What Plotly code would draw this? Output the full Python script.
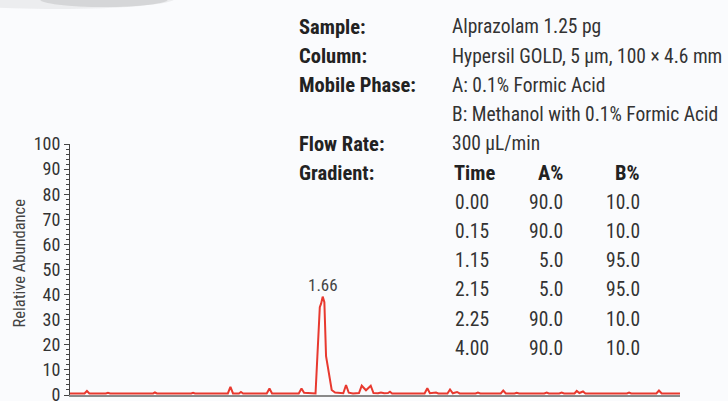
import plotly.graph_objects as go

# ========== Data ==========

# chromatogram (retention time in min, relative abundance in %)
times = [0.000, 0.095, 0.111, 0.127, 0.235, 0.249, 0.263, 0.300, 0.315, 0.330,
         0.490, 0.505, 0.520, 0.545, 0.557, 0.570, 0.795, 0.807, 0.820,
         1.035, 1.052, 1.069, 1.108, 1.121, 1.135, 1.290, 1.308, 1.325,
         1.500, 1.518, 1.535, 1.560, 1.610, 1.638, 1.647, 1.657, 1.668,
         1.679, 1.694, 1.716, 1.738, 1.760, 1.792, 1.810, 1.828, 1.856,
         1.895, 1.913, 1.941, 1.972, 1.990, 2.020, 2.039, 2.060, 2.085,
         2.098, 2.112, 2.325, 2.343, 2.360, 2.385, 2.400, 2.415, 2.475,
         2.492, 2.510, 2.538, 2.555, 2.660, 2.675, 2.690, 2.825, 2.841,
         2.858, 2.915, 2.929, 2.945, 3.020, 3.036, 3.050, 3.110, 3.126,
         3.140, 3.208, 3.224, 3.240, 3.308, 3.323, 3.340, 3.364, 3.380,
         3.652, 3.666, 3.680, 3.845, 3.862, 3.880, 4.000]
abundance = [0.6, 0.6, 1.6, 0.6, 0.6, 0.9, 0.6, 0.6, 0.9, 0.6,
             0.6, 0.9, 0.6, 0.6, 1.0, 0.6, 0.6, 0.9, 0.6,
             0.6, 3.2, 0.6, 0.6, 1.2, 0.6, 0.6, 2.6, 0.6,
             0.6, 2.6, 0.9, 0.7, 0.6, 35.0, 36.5, 39.2, 37.0,
             15.5, 10.0, 2.0, 1.0, 0.9, 0.7, 4.0, 0.9, 0.6,
             0.8, 3.7, 1.9, 3.7, 0.8, 0.7, 1.0, 0.7, 0.8,
             1.3, 0.6, 0.6, 2.7, 0.7, 0.7, 1.0, 0.6, 0.6,
             2.2, 0.7, 1.2, 0.6, 0.6, 1.0, 0.6, 0.6, 1.8,
             0.6, 0.6, 0.9, 0.6, 0.6, 0.9, 0.6, 0.6, 1.0,
             0.6, 0.6, 1.0, 0.6, 0.6, 1.6, 0.8, 1.4, 0.6,
             0.6, 1.0, 0.6, 0.6, 1.8, 0.6, 0.6]

peak_time = 1.66
peak_label = "1.66"
peak_height = 39.2

y_ticks = [0, 10, 20, 30, 40, 50, 60, 70, 80, 90, 100]

# method conditions
info_labels = ["Sample:", "Column:", "Mobile Phase:", "", "Flow Rate:", "Gradient:"]
info_values = ["Alprazolam 1.25 pg",
               "Hypersil GOLD, 5 µm, 100 × 4.6 mm",
               "A: 0.1% Formic Acid",
               "B: Methanol with 0.1% Formic Acid",
               "300 µL/min",
               ""]

grad_time = ["0.00", "0.15", "1.15", "2.15", "2.25", "4.00"]
grad_a = ["90.0", "90.0", "5.0", "5.0", "90.0", "90.0"]
grad_b = ["10.0", "10.0", "95.0", "95.0", "10.0", "10.0"]

# ========== Layout helpers ==========

FONT = "Liberation Sans Narrow, Roboto Condensed, Arial Narrow, Liberation Sans, sans-serif"
L, R, T, B = 70, 48, 144, 6
W, H = 728, 401
PW, PH = W - L - R, H - T - B
TXT = 19.5   # regular text size
BOLD = 20.5  # bold labels


def px_x(x):
    return (x - L) / PW


def px_y(y):
    return (H - B - y) / PH


fig = go.Figure()

fig.add_trace(go.Scatter(
    x=times, y=abundance, mode="lines",
    line=dict(color="#e8392f", width=2),
    hoverinfo="skip", showlegend=False,
))

annotations = []

# peak label
annotations.append(dict(
    x=peak_time, y=peak_height, xref="x", yref="y", text=peak_label,
    showarrow=False, yanchor="bottom", yshift=0,
    font=dict(family=FONT, size=17, color="#444444"),
))

# y axis title
annotations.append(dict(
    x=px_x(18.5), y=px_y(263), xref="paper", yref="paper",
    text="Relative Abundance", textangle=-90, showarrow=False,
    xanchor="center", yanchor="middle",
    font=dict(family=FONT, size=16.5, color="#444444"),
))

row0, step = 27, 29.2
for i, (lab, val) in enumerate(zip(info_labels, info_values)):
    yy = px_y(row0 + step * i)
    if lab:
        annotations.append(dict(
            x=px_x(297), y=yy, xref="paper", yref="paper", text="<b>" + lab + "</b>",
            showarrow=False, xanchor="left", yanchor="middle",
            font=dict(family=FONT, size=BOLD, color="#222222"),
        ))
    if val:
        annotations.append(dict(
            x=px_x(450), y=yy, xref="paper", yref="paper", text=val,
            showarrow=False, xanchor="left", yanchor="middle",
            font=dict(family=FONT, size=TXT, color="#333333"),
        ))

# gradient table header
hy = px_y(row0 + step * 5)
for txt, xx, anchor in [("Time", 452, "left"), ("A%", 565, "right"), ("B%", 642, "right")]:
    annotations.append(dict(
        x=px_x(xx), y=hy, xref="paper", yref="paper", text="<b>" + txt + "</b>",
        showarrow=False, xanchor=anchor, yanchor="middle",
        font=dict(family=FONT, size=BOLD, color="#222222"),
    ))

for j, (t, a, b) in enumerate(zip(grad_time, grad_a, grad_b)):
    yy = px_y(row0 + step * (6 + j))
    for txt, xx, anchor in [(t, 453, "left"), (a, 565, "right"), (b, 642, "right")]:
        annotations.append(dict(
            x=px_x(xx), y=yy, xref="paper", yref="paper", text=txt,
            showarrow=False, xanchor=anchor, yanchor="middle",
            font=dict(family=FONT, size=TXT, color="#333333"),
        ))

# faint grey smudge at the top left edge
shapes = [
    dict(type="circle", xref="paper", yref="paper",
         x0=px_x(-60), x1=px_x(175), y0=px_y(9), y1=px_y(-12),
         fillcolor="rgba(120,120,120,0.10)", line=dict(width=0), layer="above"),
    dict(type="circle", xref="paper", yref="paper",
         x0=px_x(40), x1=px_x(168), y0=px_y(7), y1=px_y(-8),
         fillcolor="rgba(110,110,110,0.18)", line=dict(width=0), layer="above"),
]

fig.update_layout(
    width=W, height=H,
    margin=dict(l=L, r=R, t=T, b=B),
    paper_bgcolor="#fafbfd",
    plot_bgcolor="#fafbfd",
    annotations=annotations,
    shapes=shapes,
    showlegend=False,
    xaxis=dict(
        range=[0, 4.0], showgrid=False, zeroline=False,
        showline=True, linecolor="#8a8a8a", linewidth=2,
        ticks="", showticklabels=False, fixedrange=True,
        automargin=False,
    ),
    yaxis=dict(
        range=[0, 100], showgrid=False, zeroline=False,
        showline=True, linecolor="#444444", linewidth=1,
        tickvals=y_ticks, ticks="outside", ticklen=5, tickcolor="#444444",
        tickfont=dict(family=FONT, size=18, color="#333333"),
        ticklabeloverflow="allow", automargin=False,
        minor=dict(dtick=2, ticks="outside", ticklen=3, tickcolor="#444444"),
        fixedrange=True,
    ),
)

# drop the page's default body margin so the figure sits at the window corner
fig.write_html("out.html", config={"displayModeBar": False},
               post_script="document.body.style.margin='0';")
